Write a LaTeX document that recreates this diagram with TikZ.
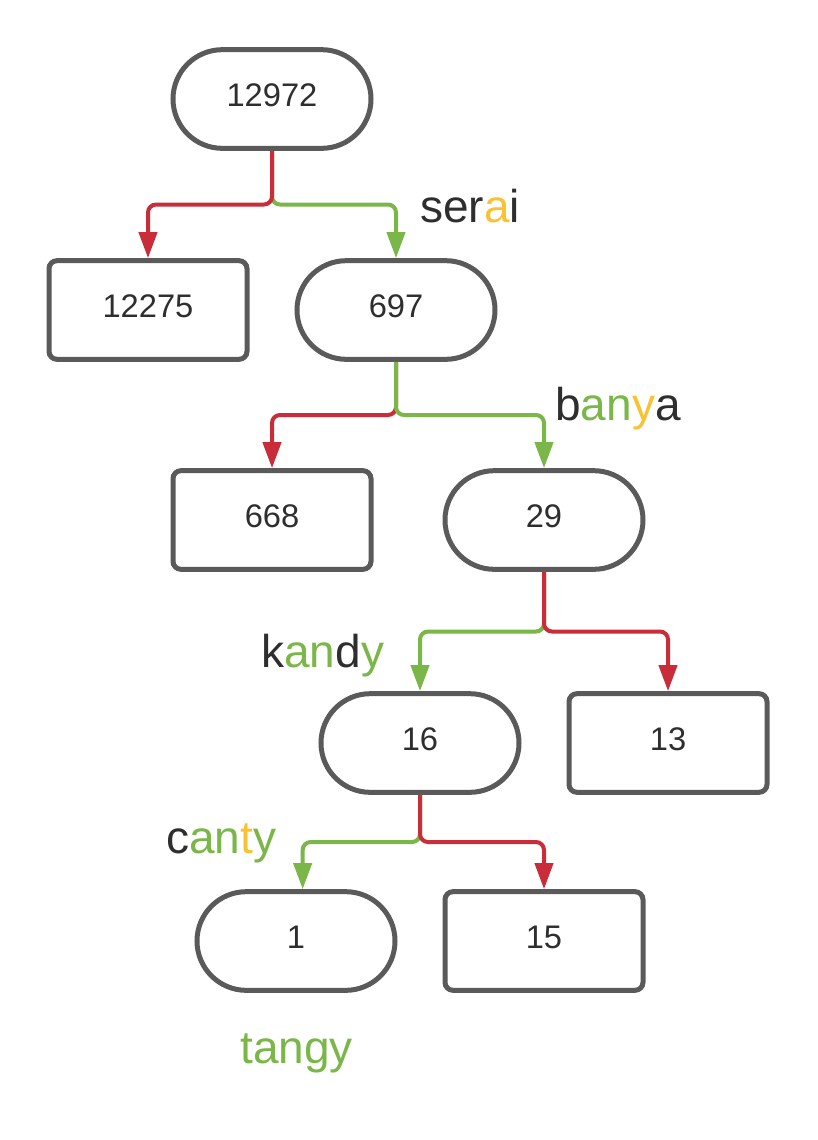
\documentclass[tikz,border=0pt]{standalone}
\usepackage{fontspec}
\setmainfont{Liberation Sans}
\usetikzlibrary{arrows.meta,calc}

\definecolor{boxgray}{HTML}{5A5A5A}
\definecolor{txtgray}{HTML}{2E2E2E}
\definecolor{nored}{HTML}{C92D39}
\definecolor{yesgreen}{HTML}{7AB648}
\definecolor{hintyellow}{HTML}{F9C233}

\begin{document}
\begin{tikzpicture}[x=0.75pt, y=-0.75pt,
	split/.style = {draw=boxgray, line width=3.75pt, fill=white, text=txtgray,
		minimum width=148.5pt, minimum height=74pt, rounded corners=37pt,
		text depth=6pt, font=\fontsize{24.5}{28}\selectfont},
	leaf/.style = {split, rounded corners=6pt},
	nogo/.style = {draw=nored, line width=3pt, rounded corners=6pt,
		-{Triangle[width=13.5pt,length=19.5pt]}},
	yes/.style = {nogo, draw=yesgreen, fill=none},
	guess/.style = {anchor=base west, inner sep=0pt, text=txtgray,
		font=\fontsize{34.5}{40}\selectfont}]
	
	% Background bounding box
	\useasboundingbox (0,0) rectangle (818,1140);
	
	% Word counts (stadium = split further, box = leaf)
	\node[split] (root) at (272,99) {12972};
	\node[leaf]  (n12275) at (148,310) {12275};
	\node[split] (n697) at (396,310) {697};
	\node[leaf]  (n668) at (272,520) {668};
	\node[split] (n29) at (544,520) {29};
	\node[split] (n16) at (420,743) {16};
	\node[leaf]  (n13) at (668,743) {13};
	\node[split] (n1) at (296,941) {1};
	\node[leaf]  (n15) at (544,941) {15};
	
	% Branches (the one drawn last owns the trunk)
	\draw[yes]  (root.south) |- ($(root.south)!.5!(n697.north)$) -| (n697.north);
	\draw[nogo] (root.south) |- ($(root.south)!.5!(n12275.north)$) -| (n12275.north);
	
	\draw[nogo] (n697.south) |- ($(n697.south)!.5!(n668.north)$) -| (n668.north);
	\draw[yes]  (n697.south) |- ($(n697.south)!.5!(n29.north)$) -| (n29.north);
	
	\draw[yes]  (n29.south) |- ($(n29.south)!.5!(n16.north)$) -| (n16.north);
	\draw[nogo] (n29.south) |- ($(n29.south)!.5!(n13.north)$) -| (n13.north);
	
	\draw[yes]  (n16.south) |- ($(n16.south)!.5!(n1.north)$) -| ([xshift=5]n1.north);
	\draw[nogo] (n16.south) |- ($(n16.south)!.5!(n15.north)$) -| (n15.north);
	
	% Guesses with letter feedback
	\node[guess] (serai) at (420,222) {ser\textcolor{hintyellow}{a}i};
	\node[guess] (banya) at (555,420) {b\textcolor{yesgreen}{an}\textcolor{hintyellow}{y}a};
	\node[guess] (kandy) at (261,667) {k\textcolor{yesgreen}{an}d\textcolor{yesgreen}{y}};
	\node[guess] (canty) at (166,853) {c\textcolor{yesgreen}{an}\textcolor{hintyellow}{t}\textcolor{yesgreen}{y}};
	\node[guess, text=yesgreen] (tangy) at (240,1063) {tangy};
	
\end{tikzpicture}
\end{document}
